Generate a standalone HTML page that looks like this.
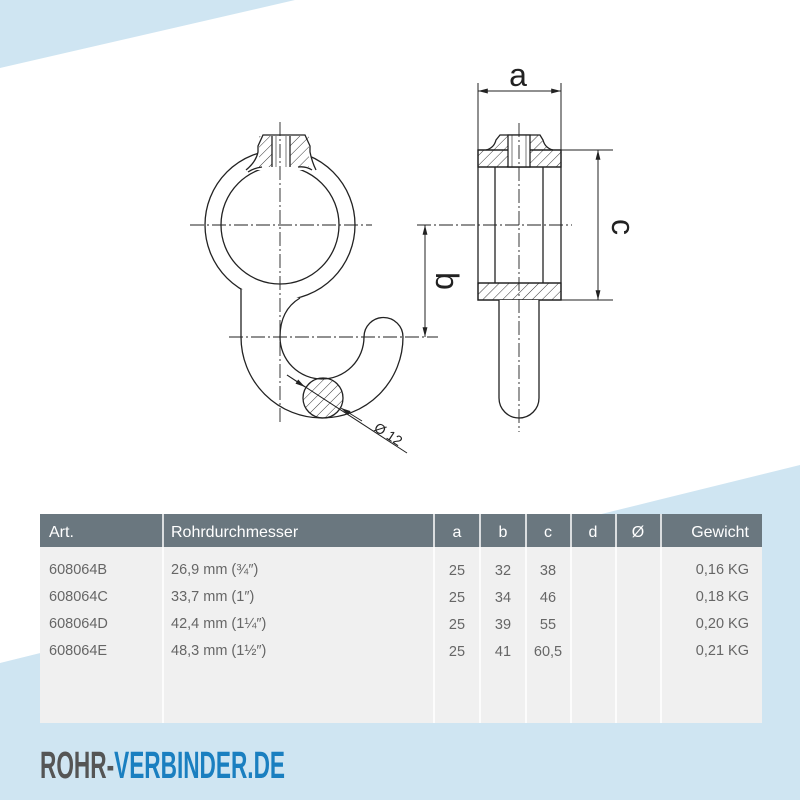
<!DOCTYPE html>
<html><head><meta charset="utf-8"><style>
html,body{margin:0;padding:0;background:#fff}
svg{display:block}
text{font-family:"Liberation Sans",sans-serif}
</style></head><body>
<svg width="800" height="800" viewBox="0 0 800 800" xmlns="http://www.w3.org/2000/svg">
<defs>
<pattern id="h" patternUnits="userSpaceOnUse" width="7" height="7" patternTransform="rotate(45)">
<line x1="0" y1="0" x2="0" y2="7" stroke="#222" stroke-width="0.9"/></pattern>
<clipPath id="sc"><circle cx="323" cy="398" r="20"/></clipPath>
<marker id="ar" viewBox="0 0 14 10" refX="14" refY="5" markerWidth="14" markerHeight="7" orient="auto-start-reverse" markerUnits="userSpaceOnUse"><path d="M0,1.5 L14,5 L0,8.5 z" fill="#222"/></marker>
</defs>
<rect width="800" height="800" fill="#fff"/>
<polygon points="0,0 295,0 0,68" fill="#cfe5f2"/>
<polygon points="658,500 800,465 800,800 0,800 0,663" fill="#cfe5f2"/>

<g fill="none" stroke="#222" stroke-width="1.3">
<circle cx="280" cy="225" r="75" fill="#fff"/>
<circle cx="280" cy="225" r="59"/>
<path d="M246,170 Q256,162 258,152 L258,146 L263,135 L305,135 L310,146 L310,152 Q312,162 316,170" fill="#fff"/>
<rect x="259" y="136" width="50" height="31" fill="url(#h)" stroke="none"/>
<rect x="272" y="136" width="18" height="32" fill="#fff" stroke="none"/>
<line x1="272" y1="136" x2="272" y2="167"/><line x1="290" y1="136" x2="290" y2="167"/>
<line x1="276" y1="136" x2="276" y2="167" stroke-width="0.6"/><line x1="286" y1="136" x2="286" y2="167" stroke-width="0.6"/>
<path d="M262,167 Q254,168 248,172"/><path d="M298,167 Q306,166 312,170"/>
<path d="M241,289 L241,337 A81,81 0 0 0 403,337 A19.5,19.5 0 0 0 364,337 A42,42 0 0 1 280,337 Q280,310 300,298" fill="#fff"/>
<g clip-path="url(#sc)"><rect x="300" y="375" width="50" height="50" fill="url(#h)"/></g>
<circle cx="323" cy="398" r="20"/>
<line x1="287" y1="375" x2="407" y2="453" stroke-width="1"/>
<line x1="287" y1="375" x2="305" y2="387" stroke-width="1" marker-end="url(#ar)"/>
<line x1="362" y1="421" x2="341" y2="408" stroke-width="1" marker-end="url(#ar)"/>

<rect x="478" y="150" width="83" height="150" fill="#fff"/>
<rect x="478" y="150" width="83" height="17" fill="url(#h)"/>
<rect x="478" y="283" width="83" height="17" fill="url(#h)"/>
<path d="M486,150 Q494,148 496,140 L500,135 L540,135 L543,140 Q545,148 553,150" fill="url(#h)"/>
<rect x="508" y="135" width="22" height="32" fill="#fff"/>
<line x1="512" y1="135" x2="512" y2="167" stroke-width="0.6"/><line x1="526" y1="135" x2="526" y2="167" stroke-width="0.6"/>
<line x1="478" y1="167" x2="561" y2="167"/><line x1="478" y1="283" x2="561" y2="283"/>
<line x1="495" y1="167" x2="495" y2="283"/><line x1="543" y1="167" x2="543" y2="283"/>
<path d="M499,300 L499,398 A20,20 0 0 0 539,398 L539,300" fill="#fff"/>
<g stroke-width="1">
<line x1="478" y1="83" x2="478" y2="150"/><line x1="561" y1="83" x2="561" y2="150"/>
<line x1="478" y1="91" x2="561" y2="91" marker-start="url(#ar)" marker-end="url(#ar)"/>
<line x1="561" y1="150" x2="613" y2="150"/><line x1="561" y1="300" x2="613" y2="300"/>
<line x1="598" y1="150" x2="598" y2="300" marker-start="url(#ar)" marker-end="url(#ar)"/>
<line x1="425" y1="225" x2="425" y2="337" marker-start="url(#ar)" marker-end="url(#ar)"/>
</g>
<g stroke-width="0.9" stroke-dasharray="14,3,2,3">
<line x1="190" y1="225" x2="372" y2="225"/>
<line x1="280" y1="122" x2="280" y2="424"/>
<line x1="229" y1="337" x2="438" y2="337"/>
<line x1="417" y1="225" x2="572" y2="225"/>
<line x1="519" y1="123" x2="519" y2="432"/>
</g>
</g>
<text x="518" y="86" font-size="32" text-anchor="middle" fill="#222">a</text>
<text transform="translate(612,227) rotate(90)" font-size="32" text-anchor="middle" fill="#222">c</text>
<text transform="translate(436,281) rotate(90)" font-size="32" text-anchor="middle" fill="#222">b</text>
<text transform="translate(373,430) rotate(33)" font-size="14" fill="#222">Ø 12</text>

<rect x="40" y="514" width="722" height="209" fill="#f0f0f0"/>
<rect x="40" y="514" width="722" height="33" fill="#6a777f"/>
<g stroke="#fff" stroke-width="1.5">
<line x1="163" y1="514" x2="163" y2="723"/><line x1="434" y1="514" x2="434" y2="723"/>
<line x1="480" y1="514" x2="480" y2="723"/><line x1="526" y1="514" x2="526" y2="723"/>
<line x1="571" y1="514" x2="571" y2="723"/><line x1="616" y1="514" x2="616" y2="723"/>
<line x1="661" y1="514" x2="661" y2="723"/>
</g>
<g fill="#fff" font-size="16">
<text x="49" y="537">Art.</text><text x="171" y="537">Rohrdurchmesser</text>
<text x="457" y="537" text-anchor="middle">a</text><text x="503" y="537" text-anchor="middle">b</text>
<text x="548" y="537" text-anchor="middle">c</text><text x="593" y="537" text-anchor="middle">d</text>
<text x="638" y="537" text-anchor="middle">Ø</text><text x="749" y="537" text-anchor="end">Gewicht</text>
</g>
<g fill="#666" font-size="14.5">
<text x="49" y="574">608064B</text><text x="171" y="574">26,9 mm (¾″)</text>
<text x="457" y="575" text-anchor="middle">25</text><text x="503" y="575" text-anchor="middle">32</text><text x="548" y="575" text-anchor="middle">38</text><text x="749" y="574" text-anchor="end">0,16 KG</text>
<text x="49" y="601">608064C</text><text x="171" y="601">33,7 mm (1″)</text>
<text x="457" y="602" text-anchor="middle">25</text><text x="503" y="602" text-anchor="middle">34</text><text x="548" y="602" text-anchor="middle">46</text><text x="749" y="601" text-anchor="end">0,18 KG</text>
<text x="49" y="628">608064D</text><text x="171" y="628">42,4 mm (1¼″)</text>
<text x="457" y="629" text-anchor="middle">25</text><text x="503" y="629" text-anchor="middle">39</text><text x="548" y="629" text-anchor="middle">55</text><text x="749" y="628" text-anchor="end">0,20 KG</text>
<text x="49" y="655">608064E</text><text x="171" y="655">48,3 mm (1½″)</text>
<text x="457" y="656" text-anchor="middle">25</text><text x="503" y="656" text-anchor="middle">41</text><text x="548" y="656" text-anchor="middle">60,5</text><text x="749" y="655" text-anchor="end">0,21 KG</text>
</g>
<text x="40" y="778" font-size="38" font-weight="bold" textLength="245" lengthAdjust="spacingAndGlyphs"><tspan fill="#555">ROHR-</tspan><tspan fill="#1a7fc0">VERBINDER.DE</tspan></text>
</svg>
</body></html>
